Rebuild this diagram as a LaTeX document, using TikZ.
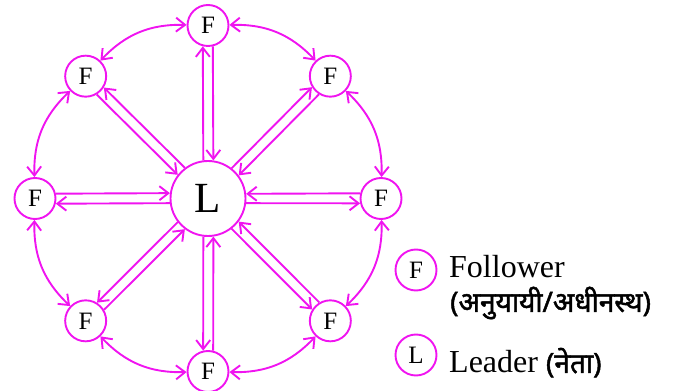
\documentclass[tikz,border=0pt]{standalone}
\usepackage{fontspec}
\setmainfont{Liberation Serif}
\newfontfamily\devfont[Script=Devanagari, FakeBold=1.6]{Noto Sans}
\usetikzlibrary{arrows.meta,calc}
\definecolor{mag}{RGB}{240,20,240}
\begin{document}
\begin{tikzpicture}[x=1pt,y=1pt,
  member/.style={circle, draw=mag, line width=1.9pt, minimum size=41pt,
    inner sep=0pt, font=\fontsize{25}{25}\selectfont},
  leader/.style={member, minimum size=75pt, font=\fontsize{43}{43}\selectfont},
  barb/.tip={Straight Barb[length=9pt,width=14pt]},
  link/.style={draw=mag, line width=1.9pt, -barb},
  ring/.style={draw=mag, line width=1.9pt, barb-barb},
  label/.style={inner sep=0pt, font=\fontsize{32}{32}\selectfont},
  devlabel/.style={inner sep=0pt, font=\devfont\fontsize{28}{28}\selectfont},
]
\useasboundingbox (0,0) rectangle (683,391);

% leader in the middle, followers on a ring around it
\node[leader] (L) at (208,192.5) {L};
\node[member] (Ft)  at ($(L)+(90:173)$)   {F};
\node[member] (Ftr) at ($(L)+(45:173)$)   {F};
\node[member] (Fr)  at ($(L)+(0:173)$)    {F};
\node[member] (Fbr) at ($(L)+(-45:173)$)  {F};
\node[member] (Fb)  at ($(L)+(-90:173)$)  {F};
\node[member] (Fbl) at ($(L)+(-135:173)$) {F};
\node[member] (Fl)  at ($(L)+(180:173)$)  {F};
\node[member] (Ftl) at ($(L)+(135:173)$)  {F};

% two parallel one-way links between the leader and every follower
\foreach \n/\a/\s in {Ft/90/1, Ftr/45/1, Fr/0/-1, Fbr/-45/-1,
                      Fb/-90/-1, Fbl/-135/-1, Fl/180/1, Ftl/135/-1} {
  \pgfmathsetmacro\la{\a+\s*7.5}
  \pgfmathsetmacro\lb{\a-\s*7.5}
  \pgfmathsetmacro\fa{\a+180-\s*13.5}
  \pgfmathsetmacro\fb{\a+180+\s*13.5}
  \draw[link] (L.\la) -- (\n.\fa);
  \draw[link] (\n.\fb) -- (L.\lb);
}

% two-way arcs between neighbouring followers
\foreach \x/\y in {Ft/Ftr, Ftr/Fr, Fr/Fbr, Fbr/Fb, Fb/Fbl, Fbl/Fl, Fl/Ftl, Ftl/Ft}
  \draw[ring] (\x) to[bend left=24] (\y);

% key
\node[member] (kf) at (416,121) {F};
\node[member] (kl) at (416,36) {L};
\node[label, anchor=base west] (tf) at (449,113) {Follower};
\node[devlabel, anchor=west] (td) at (450,88) {(अनुयायी/अधीनस्थ)};
\node[label, anchor=base west] (tl) at (449,18) {Leader {\devfont\fontsize{28}{28}\selectfont(नेता)}};
\end{tikzpicture}
\end{document}
